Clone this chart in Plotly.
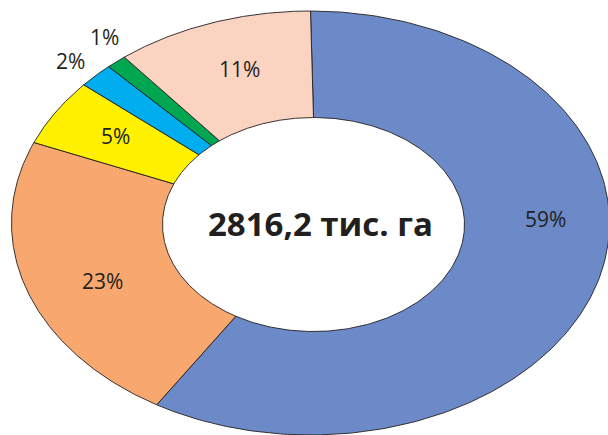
import numpy as np
import plotly.graph_objects as go

# ---- data ----
categories = ["A", "B", "C", "D", "E", "F"]
values = [58.6, 22.6, 5.1, 1.9, 1.1, 10.7]
total_label = "2816,2 тис. га"

# ---- styles / layout ----
colors = ["#6B8AC7", "#F8A86E", "#FFF100", "#00AEEF", "#00A650", "#FBD3C1"]
W, H = 608, 435
OUT_C = (310.5, 223.0); OUT_R = (299.0, 212.0)
IN_C = (313.5, 224.5); IN_R = (151.0, 107.0)
label_pos = [(545, 219), (102, 281), (115, 136), (70, 61), (104, 37), (239, 69)]
center_pos = (320, 223)

def ring_pt(c, r, th):
    return c[0] + r[0] * np.sin(th), c[1] - r[1] * np.cos(th)

fig = go.Figure()
cum = np.concatenate([[0], np.cumsum(values)]) / sum(values) * 2 * np.pi
for i, cat in enumerate(categories):
    th = np.linspace(cum[i], cum[i + 1], 200)
    ox, oy = ring_pt(OUT_C, OUT_R, th)
    ix, iy = ring_pt(IN_C, IN_R, th[::-1])
    xs = np.concatenate([ox, ix, ox[:1]])
    ys = np.concatenate([oy, iy, oy[:1]])
    fig.add_trace(go.Scatter(x=xs, y=ys, mode="lines", fill="toself",
                             fillcolor=colors[i],
                             line=dict(color="#231F20", width=0.9),
                             hoverinfo="skip", showlegend=False, name=cat))

for v, (px, py) in zip(values, label_pos):
    fig.add_annotation(x=px, y=py, text=f"{round(v)}%", showarrow=False,
                       font=dict(family="Open Sans", size=21, color="#231F20"),
                       xanchor="center", yanchor="middle")

fig.add_annotation(x=center_pos[0], y=center_pos[1], text=f"<b>{total_label}</b>",
                   showarrow=False,
                   font=dict(family="Open Sans", size=33, color="#231F20"),
                   xanchor="center", yanchor="middle")

fig.update_layout(width=W, height=H, autosize=False,
                  margin=dict(l=0, r=0, t=0, b=0),
                  paper_bgcolor="white", plot_bgcolor="white",
                  xaxis=dict(range=[0, W], visible=False, fixedrange=True),
                  yaxis=dict(range=[H, 0], visible=False, fixedrange=True))

fig.write_html("out.html", config={"displayModeBar": False},
               post_script="document.body.style.margin='0px';document.body.style.overflow='hidden';")
